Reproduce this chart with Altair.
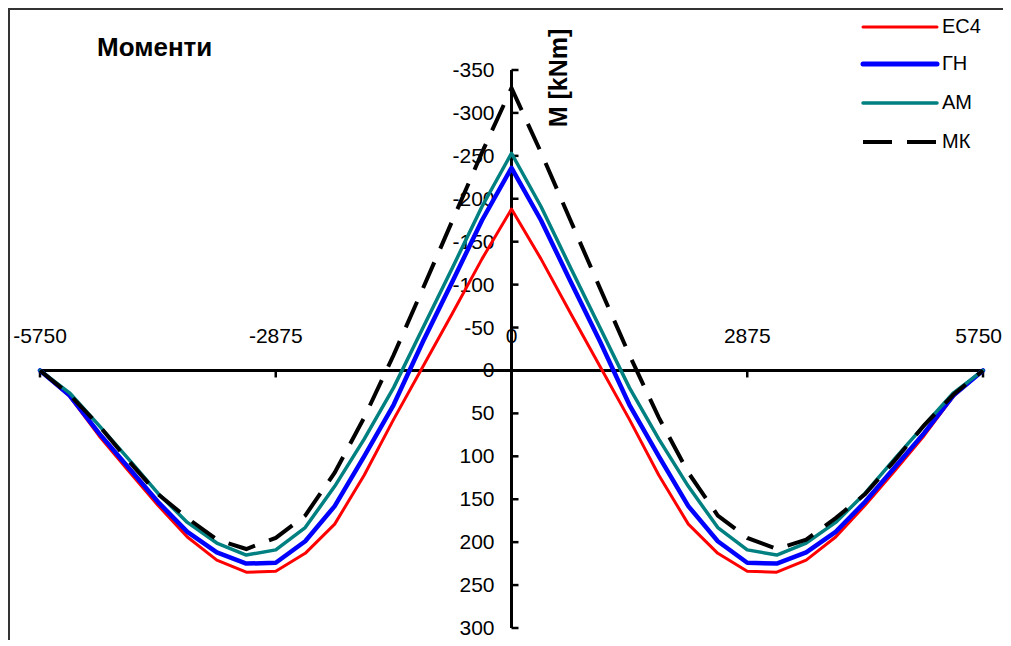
import altair as alt
import pandas as pd

# ---------------- data ----------------
X_POS = [-5750, -5390.625, -5031.25, -4671.875, -4312.5, -3953.125, -3593.75, -3234.375, -2875,
         -2515.625, -2156.25, -1796.875, -1437.5, -1078.125, -718.75, -359.375, 0,
         359.375, 718.75, 1078.125, 1437.5, 1796.875, 2156.25, 2515.625, 2875,
         3234.375, 3593.75, 3953.125, 4312.5, 4671.875, 5031.25, 5390.625, 5750]

EC4 = [0, 30, 76, 117, 157, 194, 221, 235, 234, 213, 179, 122, 57, -5, -67, -130, -188,
       -130, -67, -5, 57, 122, 179, 213, 234, 235, 221, 194, 157, 117, 76, 30, 0]
GN = [0, 29, 73, 113, 153, 188, 212, 225, 224, 199, 158, 100, 40, -34, -104, -175, -236,
      -175, -104, -34, 40, 100, 158, 199, 224, 225, 212, 188, 153, 113, 73, 29, 0]
AM = [0, 26, 64, 103, 143, 177, 201, 215, 209, 183, 135, 80, 20, -50, -120, -191, -253,
      -191, -120, -50, 20, 80, 135, 183, 209, 215, 201, 177, 143, 103, 64, 26, 0]
MK = [0, 28, 64, 105, 144, 172, 197, 208, 195, 169, 119, 55, -18, -96, -175, -254, -329,
      -254, -175, -96, -18, 55, 119, 169, 195, 208, 197, 172, 144, 105, 64, 28, 0]

SERIES = ["EC4", "ГН", "АМ", "МК"]
VALUES = [EC4, GN, AM, MK]

X_TICKS = [-5750, -2875, 0, 2875, 5750]
Y_TICKS = [-350, -300, -250, -200, -150, -100, -50, 0, 50, 100, 150, 200, 250, 300]

TITLE = "Моменти"
Y_TITLE = "M [kNm]"

# ---------------- styles ----------------
COLORS = ["#FF0000", "#0000FF", "#008080", "#000000"]
WIDTHS = [3, 4.5, 3.5, 4]
DASHES = [None, None, None, [28, 15]]
FONT = "Liberation Sans"
W, H = 995, 632

xs = alt.Scale(domain=[X_TICKS[0], X_TICKS[-1]], range=[32, 975], nice=False, zero=False)
ys = alt.Scale(domain=[Y_TICKS[0], Y_TICKS[-1]], range=[62, 620], nice=False, zero=False)


def X(f):
    return alt.X(f, scale=xs, axis=None)


def Y(f):
    return alt.Y(f, scale=ys, axis=None)


rows = []
for name, vals in zip(SERIES, VALUES):
    for xv, yv in zip(X_POS, vals):
        rows.append({"series": name, "x": xv, "m": yv})
df = pd.DataFrame(rows)

xt = pd.DataFrame({"v": X_TICKS, "z": 0, "lab": [str(v) for v in X_TICKS]})
yt = pd.DataFrame({"v": Y_TICKS, "z": 0, "lab": [str(v) for v in Y_TICKS]})
xline = pd.DataFrame({"a": [X_TICKS[0]], "b": [X_TICKS[-1]], "z": [0]})
yline = pd.DataFrame({"a": [Y_TICKS[0]], "b": [Y_TICKS[-1]], "z": [0]})

layers = []

# tick labels (the last x label is kept inside the page edge)
layers.append(alt.Chart(xt.iloc[:-1]).mark_text(font=FONT, fontSize=21, align="center",
                                                baseline="alphabetic", dy=-27, color="black")
              .encode(x=X("v:Q"), y=Y("z:Q"), text="lab:N"))
layers.append(alt.Chart(xt.iloc[-1:]).mark_text(font=FONT, fontSize=21, align="right",
                                                baseline="alphabetic", dx=19, dy=-27,
                                                color="black")
              .encode(x=X("v:Q"), y=Y("z:Q"), text="lab:N"))
layers.append(alt.Chart(yt).mark_text(font=FONT, fontSize=21, align="right",
                                      baseline="alphabetic", dx=-17, dy=7, color="black")
              .encode(x=X("z:Q"), y=Y("v:Q"), text="lab:N"))

# axis lines
layers.append(alt.Chart(xline).mark_rule(color="black", strokeWidth=3)
              .encode(x=X("a:Q"), x2="b:Q", y=Y("z:Q")))
layers.append(alt.Chart(yline).mark_rule(color="black", strokeWidth=3)
              .encode(x=X("z:Q"), y=Y("a:Q"), y2="b:Q"))

# ticks
layers.append(alt.Chart(xt).mark_rule(color="black", strokeWidth=2.5, y2Offset=7)
              .encode(x=X("v:Q"), y=Y("z:Q"), y2="z:Q"))
layers.append(alt.Chart(yt).mark_rule(color="black", strokeWidth=2.5, x2Offset=7)
              .encode(x=X("z:Q"), x2="z:Q", y=Y("v:Q")))

# series lines
for name, col, w, d in zip(SERIES, COLORS, WIDTHS, DASHES):
    kw = dict(color=col, strokeWidth=w)
    if d is not None:
        kw["strokeDash"] = d
        kw["strokeCap"] = "butt"
    else:
        kw["strokeCap"] = "round"
        kw["strokeJoin"] = "round"
    layers.append(alt.Chart(df).transform_filter(alt.datum.series == name)
                  .mark_line(**kw)
                  .encode(x=X("x:Q"), y=Y("m:Q"), order="x:Q"))

# legend (manual)
LEG_Y = [19, 56, 95, 134]
for name, col, w, d, ly in zip(SERIES, COLORS, WIDTHS, DASHES, LEG_Y):
    kw = dict(color=col, strokeWidth=w + (0.5 if d is None and w > 4 else 0))
    if d is not None:
        kw["strokeDash"] = [29, 15]
        kw["strokeCap"] = "butt"
    else:
        kw["strokeCap"] = "round"
    one = pd.DataFrame({"name": [name]})
    layers.append(alt.Chart(one).mark_rule(**kw)
                  .encode(x=alt.value(855), x2=alt.value(929), y=alt.value(ly)))
    layers.append(alt.Chart(one).mark_text(font=FONT, fontSize=20, align="left",
                                           baseline="middle", color="black")
                  .encode(x=alt.value(934), y=alt.value(ly), text="name:N"))

# titles
t = pd.DataFrame({"t": [TITLE]})
layers.append(alt.Chart(t).mark_text(font=FONT, fontSize=26, fontWeight="bold",
                                     align="left", baseline="alphabetic", color="black")
              .encode(x=alt.value(89), y=alt.value(48), text="t:N"))
ty = pd.DataFrame({"t": [Y_TITLE]})
layers.append(alt.Chart(ty).mark_text(font=FONT, fontSize=25, fontWeight="bold", angle=270,
                                      align="center", baseline="alphabetic", color="black")
              .encode(x=alt.value(559), y=alt.value(70), text="t:N"))

# frame (left & top border of chart area)
fr = pd.DataFrame({"a": [0]})
layers.append(alt.Chart(fr).mark_rule(color="#333333", strokeWidth=2)
              .encode(x=alt.value(1), y=alt.value(0), y2=alt.value(H)))
layers.append(alt.Chart(fr).mark_rule(color="#333333", strokeWidth=2)
              .encode(x=alt.value(0), x2=alt.value(W), y=alt.value(1)))

chart = (alt.layer(*layers)
         .properties(width=W, height=H, autosize=alt.AutoSizeParams(type="none"), padding=0,
                     background="white")
         .configure_view(stroke=None))

chart.save("out.html", embed_options={"renderer": "svg", "actions": False})
